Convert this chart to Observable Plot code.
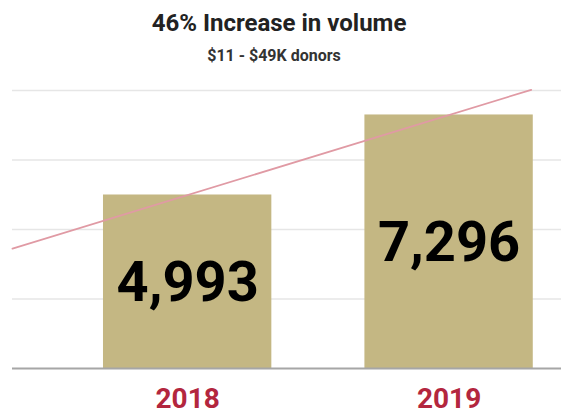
<!DOCTYPE html>
<html>
<head>
<meta charset="utf-8">
<script src="https://cdn.jsdelivr.net/npm/d3@7"></script>
<script src="https://cdn.jsdelivr.net/npm/@observablehq/plot@0.6"></script>
<style>
  html, body { margin: 0; padding: 0; background: #fff; }
  #chart svg { display: block; }
</style>
</head>
<body>
<div id="chart"></div>
<script>
// Data
const years = [2018, 2019];
const donors = [4993, 7296];
const gridTicks = [0, 2000, 4000, 6000, 8000];
const titleText = "46% Increase in volume";
const subtitleText = "$11 - $49K donors";

const rows = years.map((y, i) => ({year: y, value: donors[i]}));

// Linear trend through the two bars, extended across the plot
const slope = (donors[1] - donors[0]) / (years[1] - years[0]);
const trendExtent = [2017.33, 2019.314];
const trend = trendExtent.map(t => ({t, v: donors[0] + slope * (t - years[0])}));

const halfBar = 0.322;
const fmt = d3.format(",");

const chart = Plot.plot({
  width: 561,
  height: 414,
  marginLeft: 12,
  marginRight: 0,
  marginTop: 90,
  marginBottom: 46,
  style: {fontFamily: "Roboto, 'Noto Sans', sans-serif", background: "#fff"},
  x: {domain: [2017.33, 2019.43], axis: null},
  y: {domain: [0, 8000], axis: null},
  marks: [
    Plot.ruleY(gridTicks.filter(d => d > 0), {stroke: "#e6e6e6", strokeWidth: 1.5}),
    Plot.rectY(rows, {x1: d => d.year - halfBar, x2: d => d.year + halfBar, y: "value", fill: "#c4b783"}),
    Plot.ruleY([0], {stroke: "#a6a6a6", strokeWidth: 2}),
    Plot.line(trend, {x: "t", y: "v", stroke: "#e09aa4", strokeWidth: 1.8}),
    Plot.text(rows, {x: "year", y: d => d.value / 2, text: d => fmt(d.value), fontSize: 56, fontWeight: "bold", fill: "#000", lineAnchor: "middle", dy: 1}),
    Plot.text(rows, {x: "year", text: d => String(d.year), frameAnchor: "bottom", lineAnchor: "bottom", dy: 39, fontSize: 28, fontWeight: "bold", fill: "#b3263e"}),
    Plot.text([titleText], {text: d => d, frameAnchor: "top", lineAnchor: "bottom", dy: -60, dx: -8, fontSize: 24, fontWeight: "bold", fill: "#222"}),
    Plot.text([subtitleText], {text: d => d, frameAnchor: "top", lineAnchor: "bottom", dy: -30, dx: -13, fontSize: 16, fontWeight: "bold", fill: "#333"})
  ]
});
document.getElementById("chart").appendChild(chart);
</script>
</body>
</html>
